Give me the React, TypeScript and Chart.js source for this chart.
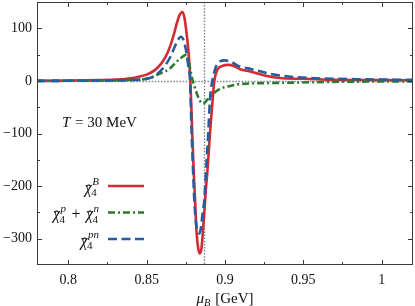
import React, { useEffect, useRef } from 'react';
import { Chart, registerables } from 'chart.js';

Chart.register(...registerables);

// ---- data (muB in GeV) ----
const xB = [0.78, 0.8, 0.82, 0.83, 0.84, 0.845, 0.85, 0.855, 0.8585, 0.862, 0.865, 0.8675, 0.8695, 0.871, 0.8727, 0.874, 0.8753, 0.8766, 0.8779, 0.8791, 0.88, 0.8809, 0.8819, 0.883, 0.884, 0.885, 0.8858, 0.8868, 0.8877, 0.889, 0.8904, 0.8921, 0.8932, 0.8951, 0.898, 0.9021, 0.906, 0.9096, 0.916, 0.9266, 0.937, 0.95, 0.969, 1.0, 1.02];
const chiB = [0.2, 0.6, 1.5, 2.5, 5, 8, 12, 20, 30, 45, 66, 90, 112, 125, 131, 122, 95, 59, 0, -100, -170, -227, -290, -320, -328, -318, -290, -250, -210, -163, -100, -36, 0, 21, 28, 30.5, 28, 22, 18, 9.5, 5, 4, 2, 1.5, 1];

const xPN = [0.78, 0.8, 0.82, 0.84, 0.85, 0.855, 0.8585, 0.862, 0.865, 0.8675, 0.8695, 0.8718, 0.8735, 0.875, 0.8765, 0.8777, 0.8787, 0.8796, 0.8804, 0.8815, 0.8826, 0.8836, 0.8846, 0.8856, 0.8868, 0.888, 0.8893, 0.8904, 0.8919, 0.894, 0.8968, 0.9, 0.904, 0.9096, 0.916, 0.9266, 0.937, 0.9585, 0.99, 1.02];
const chiPN = [0, 0.2, 0.5, 1.5, 4, 9, 18, 30, 45, 62, 75, 84, 78, 60, 30, 0, -100, -170, -227, -270, -287, -290, -280, -255, -227, -165, -100, -36, 0, 25, 37, 39, 36, 27, 23, 15, 9.5, 5, 3, 2];

const xSum = [0.78, 0.8, 0.82, 0.84, 0.85, 0.8585, 0.865, 0.8683, 0.872, 0.8755, 0.877, 0.8787, 0.8803, 0.8819, 0.884, 0.8861, 0.888, 0.8904, 0.8957, 0.9032, 0.9096, 0.93, 0.948, 0.98, 1.02];
const chiSum = [0, 0.2, 0.7, 2, 4, 14, 24, 34, 44, 50, 35, 8, -8, -23, -38, -43, -38, -30, -17, -9.5, -6, -4, -3, -1.5, -1];

const xMajorTicks = [0.8, 0.85, 0.9, 0.95, 1.0];
const xTickLabels = ['0.8', '0.85', '0.9', '0.95', '1'];
const xMinorTicks = [0.825, 0.875, 0.925, 0.975];
const yMajorTicks = [-300, -200, -100, 0, 100];
const yTickLabels = ['\u2212300', '\u2212200', '\u2212100', '0', '100'];
const yMinorTicks = [-250, -150, -50, 50];

const muCrit = 0.8868;

const FONT = '"Liberation Serif", "DejaVu Serif", serif';
const RED = '#d42a33';
const GREEN = '#2e7a2c';
const BLUE = '#255e9e';
const DASH_BLUE = [9, 4.5];
const DASH_GREEN = [7, 3, 2, 3];

function chiHat(ctx: CanvasRenderingContext2D, x: number, base: number, sup: string, draw: boolean): number {
  const S = 16;
  const s = 11;
  ctx.font = `italic ${S}px ${FONT}`;
  const wc = ctx.measureText('\u03c7').width;
  ctx.font = `${s}px ${FONT}`;
  const w4 = ctx.measureText('4').width;
  ctx.font = `italic ${s}px ${FONT}`;
  const wsup = ctx.measureText(sup).width;
  const total = wc + Math.max(w4, wsup + 1) + 0.5;
  if (draw) {
    ctx.textBaseline = 'alphabetic';
    ctx.textAlign = 'left';
    ctx.font = `italic ${S}px ${FONT}`;
    ctx.fillText('\u03c7', x, base);
    ctx.font = `${S}px ${FONT}`;
    ctx.textAlign = 'center';
    ctx.fillText('\u02c6', x + wc * 0.55, base + 3);
    ctx.textAlign = 'left';
    ctx.font = `${s}px ${FONT}`;
    ctx.fillText('4', x + wc - 0.5, base + 3.5);
    ctx.font = `italic ${s}px ${FONT}`;
    ctx.fillText(sup, x + wc + 0.5, base - 7.5);
  }
  return total;
}

const decor = {
  id: 'decor',
  beforeDatasetsDraw(chart: any) {
    const { ctx, chartArea: a, scales } = chart;
    const xs = scales.x;
    const ys = scales.y;
    ctx.save();
    ctx.strokeStyle = '#7d8390';
    ctx.lineWidth = 1.4;
    ctx.setLineDash([1.5, 1.6]);
    const y0 = Math.round(ys.getPixelForValue(0)) + 0.5;
    ctx.beginPath();
    ctx.moveTo(a.left, y0);
    ctx.lineTo(a.right, y0);
    ctx.stroke();
    const xc = Math.round(xs.getPixelForValue(muCrit)) + 0.5;
    ctx.beginPath();
    ctx.moveTo(xc, a.top);
    ctx.lineTo(xc, a.bottom);
    ctx.stroke();
    ctx.restore();
  },
  afterDraw(chart: any) {
    const { ctx, chartArea: a, scales } = chart;
    const xs = scales.x;
    const ys = scales.y;
    ctx.save();
    // frame
    ctx.strokeStyle = '#3a3a3a';
    ctx.lineWidth = 1;
    ctx.setLineDash([]);
    ctx.strokeRect(a.left + 0.5, a.top + 0.5, a.right - a.left - 1, a.bottom - a.top - 1);
    // ticks
    ctx.beginPath();
    const xt = (v: number, len: number) => {
      const p = Math.round(xs.getPixelForValue(v)) + 0.5;
      ctx.moveTo(p, a.bottom);
      ctx.lineTo(p, a.bottom - len);
      ctx.moveTo(p, a.top);
      ctx.lineTo(p, a.top + len);
    };
    const yt = (v: number, len: number) => {
      const p = Math.round(ys.getPixelForValue(v)) + 0.5;
      ctx.moveTo(a.left, p);
      ctx.lineTo(a.left + len, p);
      ctx.moveTo(a.right, p);
      ctx.lineTo(a.right - len, p);
    };
    xMajorTicks.forEach((v) => xt(v, 5));
    xMinorTicks.forEach((v) => xt(v, 3));
    yMajorTicks.forEach((v) => yt(v, 5));
    yMinorTicks.forEach((v) => yt(v, 3));
    ctx.stroke();

    ctx.fillStyle = '#111';
    // annotation
    ctx.textBaseline = 'alphabetic';
    ctx.textAlign = 'left';
    let tx = 62;
    const tb = 127;
    ctx.font = `italic 15px ${FONT}`;
    ctx.fillText('T', tx, tb);
    tx += ctx.measureText('T').width;
    ctx.font = `15px ${FONT}`;
    ctx.fillText(' = 30 MeV', tx + 1, tb);

    // legend
    const rows = [
      { y: 186, color: RED, dash: [] as number[] },
      { y: 212.5, color: GREEN, dash: DASH_GREEN },
      { y: 239, color: BLUE, dash: DASH_BLUE },
    ];
    const rightEdge = 100;
    rows.forEach((r, i) => {
      const base = r.y + 6.5;
      ctx.fillStyle = '#111';
      if (i === 0) {
        const w = chiHat(ctx, 0, 0, 'B', false);
        chiHat(ctx, rightEdge - w, base, 'B', true);
      } else if (i === 2) {
        const w = chiHat(ctx, 0, 0, 'pn', false);
        chiHat(ctx, rightEdge - w, base, 'pn', true);
      } else {
        const w1 = chiHat(ctx, 0, 0, 'p', false);
        const w2 = chiHat(ctx, 0, 0, 'n', false);
        ctx.font = `16px ${FONT}`;
        const wp = ctx.measureText('+').width + 10;
        const x0 = rightEdge - (w1 + wp + w2);
        chiHat(ctx, x0, base, 'p', true);
        ctx.font = `16px ${FONT}`;
        ctx.textAlign = 'left';
        ctx.fillText('+', x0 + w1 + 4.5, base);
        chiHat(ctx, x0 + w1 + wp, base, 'n', true);
      }
      ctx.strokeStyle = r.color;
      ctx.lineWidth = 2.6;
      ctx.setLineDash(r.dash);
      ctx.beginPath();
      ctx.moveTo(108, r.y);
      ctx.lineTo(144, r.y);
      ctx.stroke();
      ctx.setLineDash([]);
    });

    // x axis title
    ctx.fillStyle = '#111';
    ctx.textAlign = 'left';
    ctx.textBaseline = 'alphabetic';
    const tbase = 303;
    ctx.font = `italic 15px ${FONT}`;
    const wmu = ctx.measureText('\u03bc').width;
    ctx.font = `italic 10.5px ${FONT}`;
    const wB = ctx.measureText('B').width;
    ctx.font = `15px ${FONT}`;
    const wG = ctx.measureText(' [GeV]').width;
    const total = wmu + wB + 1 + wG;
    let ax = (a.left + a.right) / 2 - total / 2;
    ctx.font = `italic 15px ${FONT}`;
    ctx.fillText('\u03bc', ax, tbase);
    ax += wmu;
    ctx.font = `italic 10.5px ${FONT}`;
    ctx.fillText('B', ax, tbase + 2.5);
    ax += wB + 1;
    ctx.font = `15px ${FONT}`;
    ctx.fillText(' [GeV]', ax, tbase);
    ctx.restore();
  },
};

export default function App() {
  const ref = useRef<HTMLCanvasElement>(null);
  useEffect(() => {
    document.body.style.margin = '0';
    const canvas = ref.current!;
    const mk = (xs: number[], ys: number[]) => xs.map((x, i) => ({ x, y: ys[i] }));
    const chart = new Chart(canvas, {
      type: 'line',
      data: {
        datasets: [
          {
            label: 'pn',
            data: mk(xPN, chiPN),
            borderColor: BLUE,
            borderWidth: 2.6,
            borderDash: DASH_BLUE,
            pointRadius: 0,
            fill: false,
            cubicInterpolationMode: 'monotone',
          },
          {
            label: 'p+n',
            data: mk(xSum, chiSum),
            borderColor: GREEN,
            borderWidth: 2.6,
            borderDash: DASH_GREEN,
            pointRadius: 0,
            fill: false,
            cubicInterpolationMode: 'monotone',
          },
          {
            label: 'B',
            data: mk(xB, chiB),
            borderColor: RED,
            borderWidth: 2.6,
            pointRadius: 0,
            fill: false,
            cubicInterpolationMode: 'monotone',
          },
        ],
      },
      options: {
        animation: false,
        responsive: false,
        maintainAspectRatio: false,
        layout: { padding: { top: 2, right: 2, left: 0, bottom: 0 } },
        plugins: { legend: { display: false }, tooltip: { enabled: false } },
        scales: {
          x: {
            type: 'linear',
            min: 0.78,
            max: 1.02,
            grid: { display: false, drawTicks: false },
            border: { display: false },
            ticks: {
              color: '#111',
              font: { family: FONT, size: 14 },
              padding: 7,
              maxRotation: 0,
              autoSkip: false,
              callback: (_v: any, i: number) => xTickLabels[i],
            },
            afterBuildTicks: (s: any) => {
              s.ticks = xMajorTicks.map((v) => ({ value: v }));
            },
            afterFit: (s: any) => {
              s.height = 41;
              s.paddingLeft = 0;
              s.paddingRight = 0;
              s.paddingTop = 0;
              s.paddingBottom = 0;
            },
          },
          y: {
            type: 'linear',
            min: -350,
            max: 150,
            grid: { display: false, drawTicks: false },
            border: { display: false },
            ticks: {
              color: '#111',
              font: { family: FONT, size: 14 },
              padding: 5,
              autoSkip: false,
              callback: (_v: any, i: number) => yTickLabels[i],
            },
            afterBuildTicks: (s: any) => {
              s.ticks = yMajorTicks.map((v) => ({ value: v }));
            },
            afterFit: (s: any) => {
              s.width = 37;
              s.paddingTop = 0;
              s.paddingBottom = 0;
              s.paddingLeft = 0;
              s.paddingRight = 0;
            },
          },
        },
      },
      plugins: [decor],
    } as any);
    return () => chart.destroy();
  }, []);
  return (
    <div style={{ width: 415, height: 306 }}>
      <canvas ref={ref} width={415} height={306} style={{ display: 'block' }} />
    </div>
  );
}
